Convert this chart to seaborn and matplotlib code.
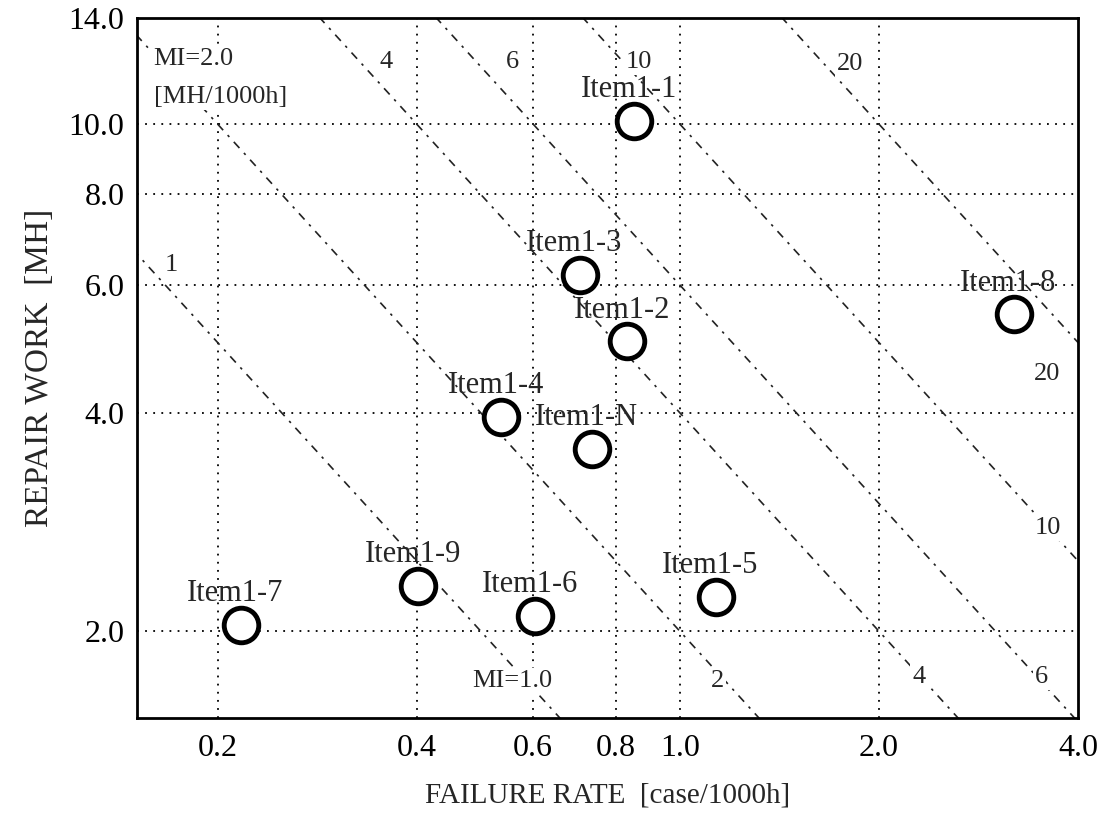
import numpy as np
import pandas as pd
import matplotlib
matplotlib.use("Agg")
import matplotlib.pyplot as plt
import matplotlib.ticker as mticker
import seaborn as sns

# ---------------------------------------------
# Data
# ---------------------------------------------
items = ["Item1-1", "Item1-2", "Item1-3", "Item1-4", "Item1-N",
         "Item1-5", "Item1-6", "Item1-7", "Item1-8", "Item1-9"]
failure_rate = [0.853, 0.833, 0.705, 0.537, 0.736, 1.134, 0.604, 0.217, 3.20, 0.402]
repair_work = [10.1, 5.02, 6.2, 3.95, 3.57, 2.23, 2.10, 2.04, 5.47, 2.31]

mi_levels = [1, 2, 4, 6, 10, 20]

x_ticks = [0.2, 0.4, 0.6, 0.8, 1.0, 2.0, 4.0]
x_tick_labels = ["0.2", "0.4", "0.6", "0.8", "1.0", "2.0", "4.0"]
y_ticks = [2.0, 4.0, 6.0, 8.0, 10.0, 14.0]
y_tick_labels = ["2.0", "4.0", "6.0", "8.0", "10.0", "14.0"]
x_minor = [0.3, 0.5, 0.7, 0.9, 1.5, 3.0]
y_minor = [3.0, 5.0, 7.0, 9.0, 12.0]

# MI labels: (text, x, y)
mi_labels = [
    ("MI=2.0\n[MH/1000h]", 0.16, 12.75),
    ("4", 0.359, 12.2), ("6", 0.558, 12.2), ("10", 0.868, 12.2), ("20", 1.81, 12.1),
    ("1", 0.17, 6.4),
    ("MI=1.0", 0.558, 1.71), ("2", 1.14, 1.71), ("4", 2.30, 1.73), ("6", 3.52, 1.73),
    ("20", 3.59, 4.52), ("10", 3.60, 2.78),
]

df = pd.DataFrame({"item": items, "rate": failure_rate, "work": repair_work})

# ---------------------------------------------
# Plot
# ---------------------------------------------
sns.set_style("white")
plt.rcParams["font.family"] = ["Liberation Serif", "DejaVu Serif"]

fig = plt.figure(figsize=(11.08, 8.25), dpi=100)
ax = fig.add_axes([0.1236, 0.130, 0.8494, 0.848])
ax.set_xscale("log")
ax.set_yscale("log")
xlim = (0.151, 4.0)
ylim = (1.52, 14.0)

# iso-MI lines (MI = rate * work)
xs = np.geomspace(0.1, 5.0, 200)
for mi in mi_levels:
    ax.plot(xs, mi / xs, color="#222222", lw=1.2,
            linestyle=(0, (5, 4, 1.5, 4)), zorder=1)

sns.scatterplot(data=df, x="rate", y="work", ax=ax, s=620,
                facecolor="white", edgecolor="black", linewidth=3.5,
                zorder=3, legend=False)

for _, r in df.iterrows():
    ax.annotate(r["item"], (r["rate"], r["work"]), xytext=(-4, 12),
                textcoords="offset points", ha="center", va="bottom",
                fontsize=22, zorder=4)

# line labels sit on a white patch that hides the line behind them
for txt, x, y in mi_labels:
    first = txt.startswith("MI=2.0")
    ax.text(x, y, txt, fontsize=19, ha="left" if first else "center",
            va="top" if first else "center", linespacing=1.95, zorder=2,
            bbox=dict(facecolor="white", edgecolor="none", pad=1.5))

ax.set_xlim(*xlim)
ax.set_ylim(*ylim)

ax.xaxis.set_major_locator(mticker.FixedLocator(x_ticks))
ax.xaxis.set_major_formatter(mticker.FixedFormatter(x_tick_labels))
ax.yaxis.set_major_locator(mticker.FixedLocator(y_ticks))
ax.yaxis.set_major_formatter(mticker.FixedFormatter(y_tick_labels))
ax.xaxis.set_minor_locator(mticker.FixedLocator(x_minor))
ax.yaxis.set_minor_locator(mticker.FixedLocator(y_minor))
ax.xaxis.set_minor_formatter(mticker.NullFormatter())
ax.yaxis.set_minor_formatter(mticker.NullFormatter())

ax.tick_params(which="both", direction="in", colors="black", labelsize=23)
ax.tick_params(which="major", length=5, width=1.2, pad=12)
ax.tick_params(which="minor", length=4, width=1.2)
ax.tick_params(axis="y", which="major", pad=9)

# dotted grid at the inner major ticks only
for xv in x_ticks[:-1]:
    ax.axvline(xv, color="black", lw=1.3, linestyle=(0, (1, 3.5)), zorder=0)
for yv in y_ticks[:-1]:
    ax.axhline(yv, color="black", lw=1.3, linestyle=(0, (1, 3.5)), zorder=0)

for sp in ax.spines.values():
    sp.set_color("black")
    sp.set_linewidth(2)

ax.set_xlabel("FAILURE RATE  [case/1000h]", fontsize=21, labelpad=14)
ax.set_ylabel("REPAIR WORK  [MH]", fontsize=24, labelpad=10)

fig.savefig("out.png", dpi=100)
